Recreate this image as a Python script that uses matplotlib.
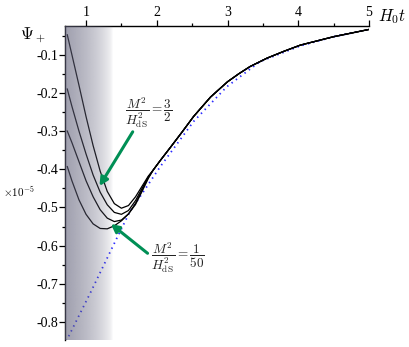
import numpy as np
import matplotlib
matplotlib.use("Agg")
import matplotlib.pyplot as plt

plt.rcParams['mathtext.fontset'] = 'cm'

# ---- data (units of 1e-5) ----
main_t = [1.95, 2.05, 2.2, 2.36, 2.52, 2.76, 3.0, 3.16, 3.32, 3.56, 3.8, 4.03, 4.5, 5.0]
main_psi = [-0.402, -0.377, -0.341, -0.302, -0.262, -0.211, -0.171, -0.150, -0.131, -0.109, -0.091, -0.075, -0.053, -0.034]

left_t = [0.735, 0.8, 0.9, 1.0, 1.1, 1.2, 1.3, 1.4, 1.5, 1.6, 1.7, 1.8, 1.88]
psi_c1 = [-0.048, -0.10, -0.18, -0.262, -0.338, -0.405, -0.458, -0.49, -0.502, -0.495, -0.472, -0.442, -0.418]
psi_c2 = [-0.19, -0.235, -0.30, -0.36, -0.415, -0.46, -0.493, -0.513, -0.518, -0.508, -0.482, -0.447, -0.420]
psi_c3 = [-0.30, -0.33, -0.38, -0.43, -0.472, -0.506, -0.528, -0.537, -0.533, -0.517, -0.489, -0.452, -0.422]
psi_c4 = [-0.393, -0.43, -0.48, -0.518, -0.543, -0.555, -0.556, -0.548, -0.535, -0.517, -0.492, -0.455, -0.424]

dot_t = [0.72, 1.06, 1.41, 1.62, 1.81, 2.05, 2.52, 2.99, 3.46, 4.03, 4.5, 5.0]
dot_psi = [-0.85, -0.724, -0.59, -0.511, -0.459, -0.393, -0.275, -0.184, -0.118, -0.077, -0.053, -0.034]

xticks = [1, 2, 3, 4, 5]
yticks = [-0.1, -0.2, -0.3, -0.4, -0.5, -0.6, -0.7, -0.8]
ytick_labels = ['-0.1', '-0.2', '-0.3', '-0.4', '-0.5', '-0.6', '-0.7', '-0.8']

xmin, xmax = 0.707, 5.0
ymin, ymax = -0.847, -0.025

W, H = 409, 347
fig = plt.figure(figsize=(W/100, H/100), dpi=100)
ax = fig.add_axes([65.3/W, 1-340/H, (369-65.3)/W, (340-26)/H])
ax.set_xlim(xmin, xmax)
ax.set_ylim(ymin, ymax)

for c in [psi_c1, psi_c2, psi_c3, psi_c4]:
    ax.plot(list(left_t) + main_t, list(c) + main_psi, color='black', lw=0.9,
            zorder=3, solid_joinstyle='round')

ax.plot(dot_t, dot_psi, color='#2a2aff', lw=1.3, linestyle=(0, (0.8, 2.2)), zorder=2)

# shaded gradient overlay
grad_x = np.linspace(0, 1, 200)
alpha = np.clip(1 - grad_x, 0, 1) ** 0.6
img = np.zeros((2, 200, 4))
img[..., 0] = 95/255
img[..., 1] = 95/255
img[..., 2] = 120/255
img[..., 3] = alpha * 0.6
ax.imshow(img, extent=[xmin, 1.38, ymin, ymax], aspect='auto', zorder=4,
          interpolation='bilinear')

# arrows
green = '#008f55'
ax.annotate('', xy=(1.19, -0.444), xytext=(1.66, -0.302),
            arrowprops=dict(arrowstyle='-|>', color=green, lw=2.2,
                            mutation_scale=12, shrinkA=0, shrinkB=0), zorder=5)
ax.annotate('', xy=(1.35, -0.543), xytext=(1.87, -0.62),
            arrowprops=dict(arrowstyle='-|>', color=green, lw=2.2,
                            mutation_scale=12, shrinkA=0, shrinkB=0), zorder=5)

ax.text(1.88, -0.253, r'$\dfrac{M^2}{H^2_{\rm dS}}=\dfrac{3}{2}$', fontsize=9.5,
        ha='center', va='center', color='#222222')
ax.text(2.30, -0.632, r'$\dfrac{M^2}{H^2_{\rm dS}}=\dfrac{1}{50}$', fontsize=9.5,
        ha='center', va='center', color='#222222')

# spines & ticks
for s in ['right', 'bottom']:
    ax.spines[s].set_visible(False)
ax.spines['top'].set_linewidth(1.0)
ax.spines['left'].set_linewidth(1.0)
ax.xaxis.set_ticks_position('top')
ax.set_xticks(xticks)
ax.set_xticklabels([str(v) for v in xticks], family='Liberation Serif', fontsize=10)
ax.set_xticks([1.5, 2.5, 3.5, 4.5], minor=True)
ax.set_yticks(yticks)
ax.set_yticklabels(ytick_labels, family='Liberation Serif', fontsize=10)
ax.set_yticks([-0.05, -0.15, -0.25, -0.35, -0.45, -0.55, -0.65, -0.75], minor=True)
ax.tick_params(axis='x', which='major', direction='out', length=4, width=0.9, pad=1)
ax.tick_params(axis='x', which='minor', direction='out', length=2.5, width=0.9)
ax.tick_params(axis='y', which='major', direction='out', length=4, width=0.9, pad=1)
ax.tick_params(axis='y', which='minor', direction='out', length=2.5, width=0.9)

fig.text(33/W, 1-35/H, r'$\Psi_+$', fontsize=12, ha='center', va='center')
fig.text(392/W, 1-17/H, r'$H_0 t$', fontsize=12, ha='center', va='center')
fig.text(19/W, 1-192/H, r'$\times 10^{-5}$', fontsize=8, ha='center', va='center')

fig.savefig('out.png', dpi=100)
